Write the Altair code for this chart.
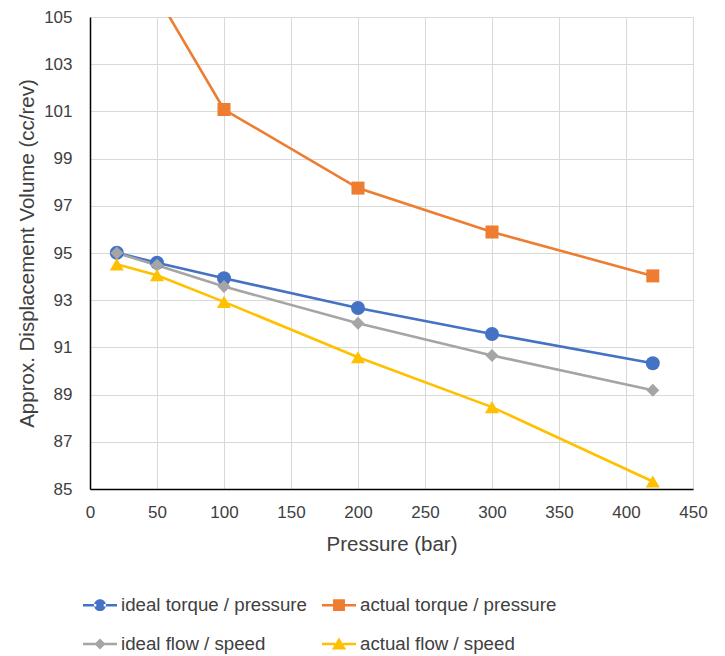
import altair as alt
import pandas as pd

pressure = [20, 50, 100, 200, 300, 420]
ideal_torque = [95.01, 94.59, 93.93, 92.67, 91.57, 90.33]
actual_torque = [110.0, 105.9, 101.08, 97.75, 95.89, 94.03]
ideal_flow = [95.0, 94.48, 93.58, 92.02, 90.66, 89.18]
actual_flow = [94.52, 94.06, 92.93, 90.58, 88.47, 85.32]

series_names = ["ideal torque / pressure", "actual torque / pressure",
                "ideal flow / speed", "actual flow / speed"]
series_colors = ["#4472C4", "#ED7D31", "#A5A5A5", "#FFC000"]
series_shapes = ["circle", "square", "diamond", "triangle-up"]
series_sizes = [196, 169, 169, 196]

rows = []
for name, vals in zip(series_names, [ideal_torque, actual_torque, ideal_flow, actual_flow]):
    for p, v in zip(pressure, vals):
        rows.append({"pressure": p, "value": v, "series": name})
df = pd.DataFrame(rows)

FONT = "Liberation Sans"
TXT = "#404040"

# legend symbols: line segment + marker (unit coords, 1 = half symbol width)
seg = "M-1,-0.075H-0.22V0.075H-1Z M0.22,-0.075H1V0.075H0.22Z "
legend_paths = [
    seg + "M-0.35,0A0.35,0.35 0 1,0 0.35,0A0.35,0.35 0 1,0 -0.35,0Z",
    seg + "M-0.35,-0.35H0.35V0.35H-0.35Z",
    seg + "M0,-0.33L0.33,0L0,0.33L-0.33,0Z",
    seg + "M0,-0.38L0.42,0.33H-0.42Z",
]

# legend is filled column by column: column 1 = ideal, column 2 = actual
legend_order = [0, 2, 1, 3]
legend_domain = [series_names[i] for i in legend_order]
legend_colors = [series_colors[i] for i in legend_order]
legend_symbols = [legend_paths[i] for i in legend_order]

legend = alt.Legend(
    title=None, orient="none", legendX=-7, legendY=571, columns=2,
    symbolSize=1156, symbolStrokeWidth=0, symbolOpacity=1,
    labelFont=FONT, labelFontSize=18.7, labelColor=TXT, labelOffset=4,
    columnPadding=15, rowPadding=12, padding=0, labelLimit=400,
)

base = alt.Chart(df)

x_enc = alt.X("pressure:Q", title="Pressure (bar)",
              scale=alt.Scale(domain=[0, 450], nice=False),
              axis=alt.Axis(values=list(range(0, 451, 50))))
y_enc = alt.Y("value:Q", title="Approx. Displacement Volume (cc/rev)",
              scale=alt.Scale(domain=[85, 105], nice=False, zero=False),
              axis=alt.Axis(values=list(range(85, 106, 2))))

layers = []
for name, col in zip(series_names, series_colors):
    layers.append(
        base.transform_filter(alt.datum.series == name)
        .mark_line(strokeWidth=2.6, clip=True, color=col)
        .encode(x=x_enc, y=y_enc)
    )
for name, col, shp, sz in zip(series_names, series_colors, series_shapes, series_sizes):
    layers.append(
        base.transform_filter(alt.datum.series == name)
        .mark_point(filled=True, shape=shp, size=sz, opacity=1, clip=True, color=col)
        .encode(x=x_enc, y=y_enc)
    )

legend_layer = base.transform_filter("datum.pressure < 0").mark_point(
    filled=True, opacity=1
).encode(
    x=x_enc, y=y_enc,
    color=alt.Color("series:N", scale=alt.Scale(domain=legend_domain, range=legend_colors),
                    legend=legend),
    shape=alt.Shape("series:N", scale=alt.Scale(domain=legend_domain, range=legend_symbols),
                    legend=legend),
)
layers.append(legend_layer)

chart = alt.layer(*layers).properties(
    width=603, height=472,
    autosize=alt.AutoSizeParams(type="none"),
    padding={"left": 82, "top": 9, "right": 20, "bottom": 166},
).configure_view(stroke=None).configure_axis(
    grid=True, gridColor="#d9d9d9", gridWidth=1,
    ticks=False, tickSize=0,
    domainColor="#000000", domainWidth=1.5,
    labelFont=FONT, labelFontSize=17, labelColor=TXT,
    labelFlush=False, labelOverlap=False,
    titleFont=FONT, titleFontSize=20.5, titleColor=TXT, titleFontWeight="normal",
).configure_axisX(
    labelPadding=15, titlePadding=14,
).configure_axisY(
    labelPadding=18, titlePadding=6,
)

chart.save("out.html", embed_options={"renderer": "svg", "actions": False})
